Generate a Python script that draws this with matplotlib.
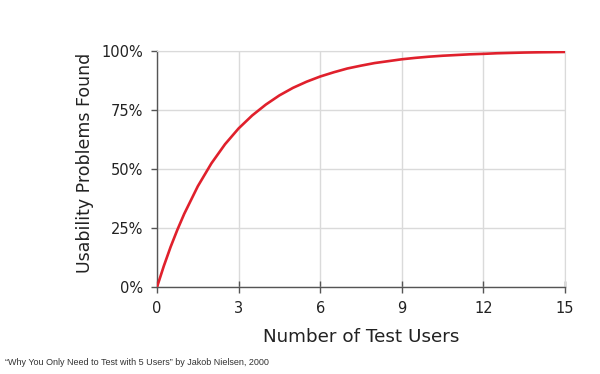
import matplotlib
matplotlib.use("Agg")
import matplotlib.pyplot as plt
from matplotlib.ticker import FuncFormatter

plt.rcParams["font.family"] = ["DejaVu Sans"]

# Data
test_users = [0, 0.25, 0.5, 0.75, 1, 1.5, 2, 2.5, 3, 3.5, 4, 4.5, 5, 5.5, 6, 6.5, 7, 7.5,
              8, 8.5, 9, 9.5, 10, 10.5, 11, 11.5, 12, 12.5, 13, 13.5, 14, 14.5, 15]
problems_found = [0, 8.9, 17, 24.3, 31, 42.7, 52.4, 60.5, 67.2, 72.7, 77.3, 81.2, 84.4,
                  87.0, 89.2, 91.0, 92.6, 93.8, 94.9, 95.7, 96.5, 97.1, 97.6, 98.0, 98.3,
                  98.6, 98.8, 99.05, 99.2, 99.35, 99.45, 99.52, 99.6]
x_ticks = [0, 3, 6, 9, 12, 15]
y_ticks = [0, 25, 50, 75, 100]

fig = plt.figure(figsize=(6.0, 3.74), dpi=100)
ax = fig.add_axes([0.2617, 0.2326, 0.68, 0.6310])

ax.plot(test_users, problems_found, color="#e0202c", lw=1.9, solid_capstyle="round", zorder=3)

ax.set_xlim(0, 15)
ax.set_ylim(0, 100)
ax.set_xticks(x_ticks)
ax.set_yticks(y_ticks)
ax.yaxis.set_major_formatter(FuncFormatter(lambda v, p: f"{int(v)}%"))

ax.grid(True, color="#dadada", lw=1.0, zorder=0)
for s in ["top", "right"]:
    ax.spines[s].set_color("#dadada")
for s in ["left", "bottom"]:
    ax.spines[s].set_color("#555555")
    ax.spines[s].set_linewidth(1.0)

ax.tick_params(axis="x", direction="inout", length=8, width=1, color="#555555",
               labelsize=10.5, labelcolor="#222222", pad=6)
ax.tick_params(axis="y", direction="out", length=4, width=1, color="#555555",
               labelsize=10.5, labelcolor="#222222", pad=6)

ax.set_xlabel("Number of Test Users", fontsize=13.2, color="#222222", labelpad=9)
ax.set_ylabel("Usability Problems Found", fontsize=12.5, color="#222222", labelpad=5)
ax.yaxis.label.set_y(0.525)

fig.text(0.008, 0.024, "\u201cWhy You Only Need to Test with 5 Users\u201d by Jakob Nielsen, 2000",
         fontsize=6.5, color="#333333", family="Liberation Sans")

fig.savefig("out.png", dpi=100)
